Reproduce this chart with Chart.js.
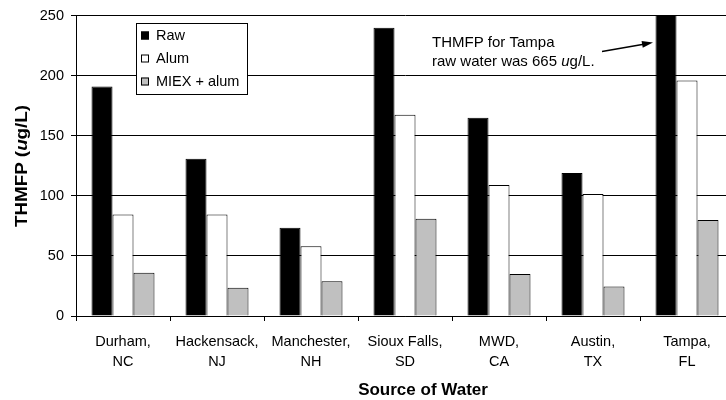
<!DOCTYPE html>
<html>
<head>
<meta charset="utf-8">
<script src="https://cdn.jsdelivr.net/npm/chart.js@4/dist/chart.umd.min.js"></script>
<style>
  html, body { margin: 0; padding: 0; background: #fff; overflow: hidden; }
  #wrap { width: 726px; height: 400px; overflow: hidden; position: relative; }
  canvas { display: block; }
</style>
</head>
<body>
<div id="wrap"><canvas id="c" width="734" height="400"></canvas></div>
<script>
const categories = [['Durham,', 'NC'], ['Hackensack,', 'NJ'], ['Manchester,', 'NH'], ['Sioux Falls,', 'SD'], ['MWD,', 'CA'], ['Austin,', 'TX'], ['Tampa,', 'FL']];
const seriesNames = ['Raw', 'Alum', 'MIEX + alum'];
const rawValues = [191, 131, 73.5, 240, 165, 119, 665];
const alumValues = [84.5, 84.5, 58, 167.5, 109, 101.5, 196];
const miexValues = [36, 23.5, 29, 81, 35, 24.5, 80];
const yTicks = [0, 50, 100, 150, 200, 250];
const yTitleParts = ['THMFP (', 'u', 'g/L)'];
const xTitle = 'Source of Water';
const noteLines = ['THMFP for Tampa', ['raw water was 665 ', 'u', 'g/L.']];

const FONT = '"Liberation Sans", Arial, sans-serif';
const colors = ['#000000', '#ffffff', '#c0c0c0'];

function drawMixed(ctx, parts, x, y, size, bold) {
  let cx = x;
  parts.forEach((p, i) => {
    const italic = (p === 'u');
    ctx.font = (italic ? 'italic ' : '') + (bold ? 'bold ' : '') + size + 'px ' + FONT;
    ctx.fillText(p, cx, y);
    cx += ctx.measureText(p).width;
  });
  return cx - x;
}
function measureMixed(ctx, parts, size, bold) {
  let w = 0;
  parts.forEach(p => {
    const italic = (p === 'u');
    ctx.font = (italic ? 'italic ' : '') + (bold ? 'bold ' : '') + size + 'px ' + FONT;
    w += ctx.measureText(p).width;
  });
  return w;
}

const decor = {
  id: 'decor',
  afterDraw(chart) {
    const ctx = chart.ctx;
    ctx.save();
    ctx.fillStyle = '#000';
    ctx.textBaseline = 'middle';
    ctx.textAlign = 'left';

    // Y axis title (rotated)
    const ySize = 16;
    const natural = measureMixed(ctx, yTitleParts, ySize, true);
    const target = 122;
    const sx = target / natural;
    ctx.save();
    ctx.translate(23, 166);
    ctx.rotate(-Math.PI / 2);
    ctx.scale(sx, 1);
    drawMixed(ctx, yTitleParts, -natural / 2, 0, ySize, true);
    ctx.restore();

    // X axis title
    ctx.font = 'bold 17px ' + FONT;
    ctx.textAlign = 'center';
    ctx.fillText(xTitle, 423, 390);
    ctx.textAlign = 'left';

    // Legend
    ctx.fillStyle = '#fff';
    ctx.fillRect(136, 23, 111, 71);
    ctx.strokeStyle = '#000';
    ctx.lineWidth = 1;
    ctx.strokeRect(136.5, 23.5, 111, 71);
    const ly = [35.5, 58.5, 81.5];
    chart.data.datasets.forEach((ds, i) => {
      ctx.fillStyle = ds.backgroundColor;
      ctx.fillRect(141, ly[i] - 4, 8, 8);
      ctx.strokeStyle = '#000';
      ctx.strokeRect(141.5, ly[i] - 3.5, 7, 7);
      ctx.fillStyle = '#000';
      ctx.font = '14.5px ' + FONT;
      ctx.fillText(ds.label, 156, ly[i]);
    });

    // Annotation
    ctx.fillStyle = '#000';
    ctx.font = '15px ' + FONT;
    ctx.fillText(noteLines[0], 432, 43);
    drawMixed(ctx, noteLines[1], 432, 62, 15, false);

    // Arrow
    const x1 = 602, y1 = 51.5, x2 = 653, y2 = 42.5;
    const ang = Math.atan2(y2 - y1, x2 - x1);
    ctx.strokeStyle = '#000';
    ctx.lineWidth = 1.5;
    ctx.beginPath();
    ctx.moveTo(x1, y1);
    ctx.lineTo(x2 - 8 * Math.cos(ang), y2 - 8 * Math.sin(ang));
    ctx.stroke();
    ctx.beginPath();
    ctx.moveTo(x2, y2);
    ctx.lineTo(x2 - 11 * Math.cos(ang) + 3.5 * Math.sin(ang), y2 - 11 * Math.sin(ang) - 3.5 * Math.cos(ang));
    ctx.lineTo(x2 - 11 * Math.cos(ang) - 3.5 * Math.sin(ang), y2 - 11 * Math.sin(ang) + 3.5 * Math.cos(ang));
    ctx.closePath();
    ctx.fillStyle = '#000';
    ctx.fill();
    ctx.restore();
  }
};

const values = [rawValues, alumValues, miexValues];
new Chart(document.getElementById('c'), {
  type: 'bar',
  data: {
    labels: categories,
    datasets: values.map((v, i) => ({
      label: seriesNames[i],
      data: v,
      backgroundColor: colors[i],
      borderColor: '#000',
      borderWidth: 1,
      borderSkipped: 'bottom',
      barPercentage: 1.0,
      categoryPercentage: 0.67,
      clip: { top: 0, left: false, right: false, bottom: false }
    }))
  },
  options: {
    responsive: false,
    devicePixelRatio: 1,
    animation: false,
    layout: { padding: { top: 14, right: 0, bottom: 0, left: 0 } },
    plugins: {
      legend: { display: false },
      tooltip: { enabled: false }
    },
    scales: {
      x: {
        offset: true,
        grid: { display: true, drawOnChartArea: false, drawTicks: true, tickLength: 5, color: '#000', offset: true },
        border: { display: true, color: '#000', width: 1 },
        ticks: { color: '#000', font: { family: FONT, size: 14.5, lineHeight: 1.38 }, padding: 11, maxRotation: 0, autoSkip: false },
        afterFit(scale) { scale.height = 84; }
      },
      y: {
        min: 0,
        max: 250,
        afterBuildTicks(scale) { scale.ticks = yTicks.map(v => ({ value: v })); },
        grid: { color: '#000', lineWidth: 1, drawTicks: true, tickLength: 5 },
        border: { display: true, color: '#000', width: 1 },
        ticks: { color: '#000', font: { family: FONT, size: 14.5 }, padding: 7 },
        afterFit(scale) { scale.width = 76; }
      }
    }
  },
  plugins: [decor]
});
</script>
</body>
</html>
